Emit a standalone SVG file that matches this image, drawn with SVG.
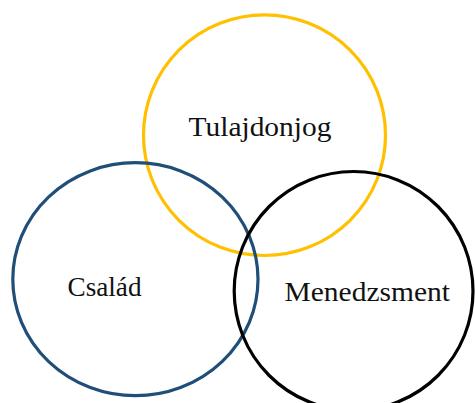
<svg xmlns="http://www.w3.org/2000/svg" width="475" height="403" viewBox="0 0 475 403">
<style>
.ring{fill:none;stroke-width:3.2}
.lbl{font-family:"Liberation Serif","DejaVu Serif",serif;font-size:27px;fill:#111}
</style>
<rect width="475" height="403" fill="#fff"/>
<g id="connectors"></g>
<g id="tulajdonjog">
<ellipse class="ring" cx="264.5" cy="135.2" rx="121" ry="120.3" stroke="#FFC000"/>
<text class="lbl" x="188.5" y="136" textLength="143" lengthAdjust="spacingAndGlyphs">Tulajdonjog</text>
</g>
<g id="csalad">
<ellipse class="ring" cx="135.4" cy="279.2" rx="122.6" ry="116.5" stroke="#1F4E79"/>
<text class="lbl" x="67.5" y="296" textLength="74" lengthAdjust="spacingAndGlyphs">Család</text>
</g>
<g id="menedzsment">
<ellipse class="ring" cx="353.6" cy="291" rx="119.4" ry="119.5" stroke="#000"/>
<text class="lbl" x="284.5" y="300.5" textLength="165.5" lengthAdjust="spacingAndGlyphs">Menedzsment</text>
</g>
</svg>
